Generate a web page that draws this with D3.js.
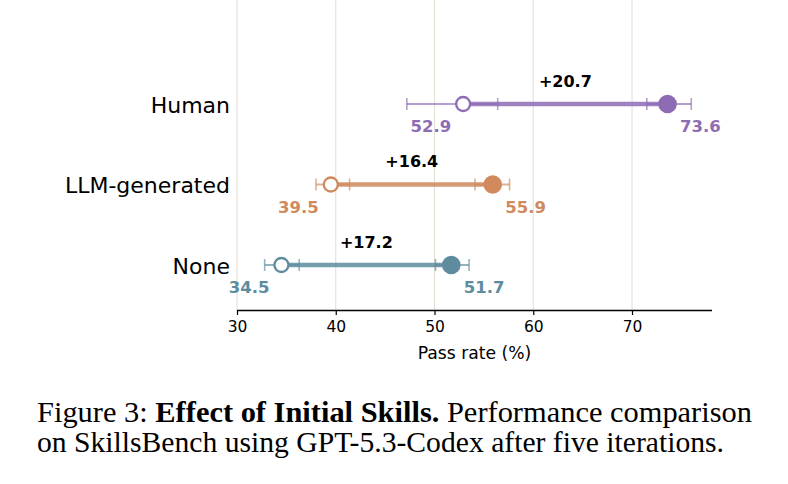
<!DOCTYPE html>
<style>* {padding:0; margin:0; border:0; outline:0;} body {background:#fff;}</style>
<body>
<script src="https://d3js.org/d3.v7.min.js"></script>
<script>
// data
categories = ["Human", "LLM-generated", "None"]
initial = [52.9, 39.5, 34.5]
initialLo = [47.2, 38.0, 32.8]
initialHi = [56.4, 41.4, 36.3]
final = [73.6, 55.9, 51.7]
finalLo = [71.5, 54.1, 50.1]
finalHi = [76.0, 57.6, 53.5]
colors = ["#8e6cb4", "#d08a5e", "#5e8c9e"]
xTicks = [30, 40, 50, 60, 70]

width = 788
height = 484
left = 237, right = 712, top = 44, bottom = 310

svg = d3.select('body').append('svg')
  .attr('width', width)
  .attr('height', height)
  .style('font-family', 'DejaVu Sans')

x = d3.scaleLinear().domain([30, 78.1]).range([left, right])
y = d3.scalePoint().domain(categories).range([104, 265])

svg.append('rect')
  .attr('x', left).attr('y', top)
  .attr('width', right - left).attr('height', bottom - top)
  .attr('fill', '#f4f7fb')

svg.selectAll('.grid')
  .data(xTicks)
.enter().append('line')
  .attr('x1', d => x(d)).attr('x2', d => x(d))
  .attr('y1', top).attr('y2', bottom)
  .attr('stroke', '#e4ddd6').attr('stroke-width', 1)

axis = svg.append('g')
  .attr('transform', 'translate(0,' + bottom + ')')
  .call(d3.axisBottom(x).tickValues(xTicks).tickSize(5).tickPadding(6))
  .attr('font-size', 15.5).attr('font-family', 'DejaVu Sans')
axis.select('.domain').attr('d', 'M' + left + ',0.5H' + right).attr('stroke', '#000').attr('stroke-width', 1.3)
axis.selectAll('text').attr('fill', '#000')
axis.selectAll('.tick line').attr('stroke', '#000').attr('stroke-width', 1.2)

svg.append('text')
  .attr('x', (left + right) / 2).attr('y', 359)
  .attr('text-anchor', 'middle')
  .attr('font-size', 17.2)
  .text('Pass rate (%)')

svg.selectAll('.cat')
  .data(categories)
.enter().append('text')
  .attr('x', 230).attr('y', d => y(d) + 8.5)
  .attr('text-anchor', 'end')
  .attr('font-size', 22)
  .text(d => d)

rows = categories.map(function(c, i){ return {c: c, i: i} })

g = svg.selectAll('.row')
  .data(rows)
.enter().append('g')

function errbar(sel, lo, hi){
  sel.append('line')
    .attr('x1', d => x(lo[d.i])).attr('x2', d => x(hi[d.i]))
    .attr('y1', d => y(d.c)).attr('y2', d => y(d.c))
    .attr('stroke', d => colors[d.i]).attr('stroke-width', 2).attr('opacity', 0.65)
  ;[lo, hi].forEach(function(arr){
    sel.append('line')
      .attr('x1', d => x(arr[d.i])).attr('x2', d => x(arr[d.i]))
      .attr('y1', d => y(d.c) - 6).attr('y2', d => y(d.c) + 6)
      .attr('stroke', d => colors[d.i]).attr('stroke-width', 1.6).attr('opacity', 0.65)
  })
}

errbar(g, initialLo, initialHi)
errbar(g, finalLo, finalHi)

g.append('line')
  .attr('x1', d => x(initial[d.i])).attr('x2', d => x(final[d.i]))
  .attr('y1', d => y(d.c)).attr('y2', d => y(d.c))
  .attr('stroke', d => colors[d.i]).attr('stroke-width', 4.5).attr('opacity', 0.85)

g.append('circle')
  .attr('cx', d => x(initial[d.i])).attr('cy', d => y(d.c))
  .attr('r', 7)
  .attr('fill', '#fff').attr('stroke', d => colors[d.i]).attr('stroke-width', 2.3)

g.append('circle')
  .attr('cx', d => x(final[d.i])).attr('cy', d => y(d.c))
  .attr('r', 9.3)
  .attr('fill', d => colors[d.i])

g.append('text')
  .attr('x', d => x((initial[d.i] + final[d.i]) / 2)).attr('y', d => y(d.c) - 17.5)
  .attr('text-anchor', 'middle')
  .attr('font-size', 16).attr('font-weight', 'bold')
  .text(d => '+' + (final[d.i] - initial[d.i]).toFixed(1))

g.append('text')
  .attr('x', d => x(initial[d.i]) - 12).attr('y', d => y(d.c) + 28)
  .attr('text-anchor', 'end')
  .attr('font-size', 16.5).attr('font-weight', 'bold')
  .attr('fill', d => colors[d.i])
  .text(d => initial[d.i].toFixed(1))

g.append('text')
  .attr('x', d => x(final[d.i]) + 12.5).attr('y', d => y(d.c) + 28)
  .attr('text-anchor', 'start')
  .attr('font-size', 16.5).attr('font-weight', 'bold')
  .attr('fill', d => colors[d.i])
  .text(d => final[d.i].toFixed(1))

// caption
cap = svg.append('g').attr('font-family', 'Liberation Serif').attr('font-size', 29)
t1 = cap.append('text').attr('x', 37).attr('y', 422)
  .attr('textLength', 715).attr('lengthAdjust', 'spacingAndGlyphs')
t1.append('tspan').text('Figure 3: ')
t1.append('tspan').attr('font-weight', 'bold').text('Effect of Initial Skills.')
t1.append('tspan').text(' Performance comparison')
cap.append('text').attr('x', 37).attr('y', 452)
  .attr('textLength', 687).attr('lengthAdjust', 'spacingAndGlyphs')
  .text('on SkillsBench using GPT-5.3-Codex after five iterations.')
</script>
